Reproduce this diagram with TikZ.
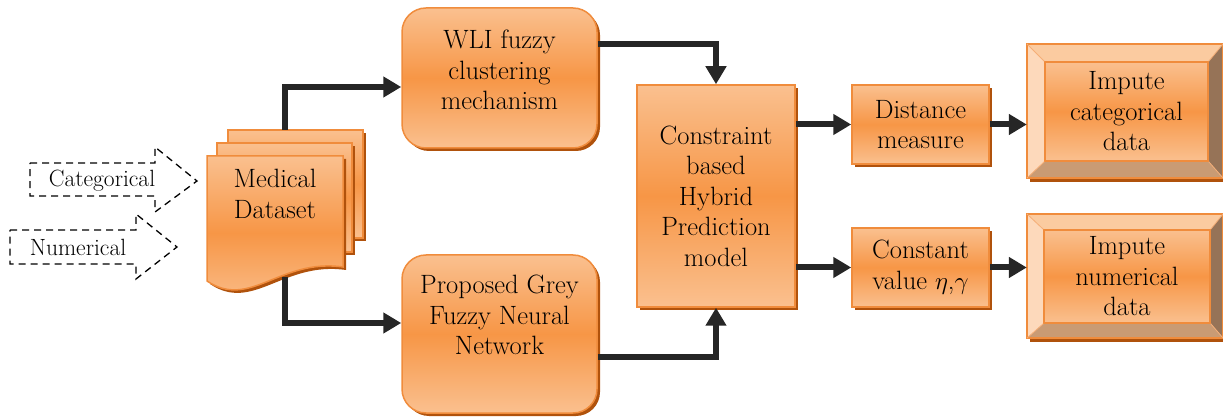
\documentclass[tikz,border=0pt]{standalone}
\usepackage{fontspec}
\usetikzlibrary{arrows.meta,shadows}
\definecolor{om}{HTML}{F79646}
\definecolor{ol}{HTML}{FAC08F}
\definecolor{ob}{HTML}{F08C3C}
\definecolor{osh}{HTML}{B0520C}
\definecolor{conc}{HTML}{262626}
\definecolor{fleft}{HTML}{FDD9BB}
\definecolor{ftop}{HTML}{FBCBA0}
\definecolor{fright}{HTML}{967357}
\definecolor{fbot}{HTML}{C99B74}
\begin{document}
\begin{tikzpicture}[x=1pt,y=-1pt,
 font=\rmfamily\fontsize{26.5}{30.5}\selectfont,
 orfill/.style={top color=ol, bottom color=ol, middle color=om, draw=ob, line width=1.5pt},
 shad/.style={drop shadow={shadow xshift=3pt, shadow yshift=-3pt, fill=osh, opacity=1}},
 rbox/.style={orfill, shad, rectangle, rounded corners=24pt, inner sep=0pt},
 sbox/.style={orfill, shad, rectangle, inner sep=0pt, align=center},
 ibox/.style={orfill, rectangle, inner sep=0pt, align=center},
 lbl/.style={align=center, inner sep=0pt},
 small/.style={font=\rmfamily\fontsize{23.5}{28}\selectfont},
 conn/.style={draw=conc, line width=6pt, -{Triangle[length=18pt,width=20pt]}},
 inarrow/.style={draw=black, line width=1.3pt, dash pattern=on 7pt off 5pt}
]
\useasboundingbox (0,0) rectangle (1223,419);

% dashed input arrows
\draw[inarrow] (30,163) -- (155,163) -- (155,147) -- (197,181) -- (155,212) -- (155,196) -- (30,196) -- cycle;
\node[lbl, small] (cat) at (102,181) {Categorical};
\draw[inarrow] (10,230) -- (136,230) -- (136,214) -- (177,247) -- (136,279) -- (136,264) -- (10,264) -- cycle;
\node[lbl, small] (num) at (78,247) {Numerical};

% medical dataset (multi-document)
\path[orfill, shad] (228,130) rectangle (363,238);
\path[orfill, shad] (217,143) rectangle (352,252);
\path[orfill, shad] (207,156) -- (343,156) -- (343,267) .. controls (280,258) and (250,310) .. (207,281) -- cycle;
\node[lbl] (ds) at (275,194) {Medical\\Dataset};
\coordinate (dstop) at (285,130);
\coordinate (dsbot) at (285,277);

% process boxes
\node[rbox, minimum width=195pt, minimum height=140pt] (wli) at (499.5,78) {};
\node[lbl] (wlit) at ([yshift=8pt]wli.center) {WLI fuzzy\\clustering\\mechanism};
\node[rbox, minimum width=195pt, minimum height=158pt] (grey) at (499.5,334) {};
\node[lbl] (greyt) at ([yshift=19pt]grey.center) {Proposed Grey\\Fuzzy Neural\\Network};
\node[sbox, minimum width=158pt, minimum height=222pt] (cons) at (716,196) {Constraint\\based\\Hybrid\\Prediction\\model};
\node[sbox, minimum width=137pt, minimum height=79pt] (dist) at (920.5,124.5) {Distance\\measure};
\node[sbox, minimum width=137pt, minimum height=79pt] (const) at (920.5,267.5) {Constant\\value $\eta$,$\gamma$};

% bevel boxes
\node[minimum width=196pt, minimum height=134pt, inner sep=0pt] (ic) at (1125,111) {};
\fill[osh] ([xshift=3pt]ic.south west) rectangle ([yshift=-4pt]ic.south east);
\node[ibox, minimum width=163pt, minimum height=99pt] (ici) at (1126.5,111.5) {Impute\\categorical\\data};
\fill[fleft] (ic.north west) -- (ici.north west) -- (ici.south west) -- (ic.south west) -- cycle;
\fill[ftop] (ic.north west) -- (ici.north west) -- (ici.north east) -- (ic.north east) -- cycle;
\fill[fright] (ic.north east) -- (ici.north east) -- (ici.south east) -- (ic.south east) -- cycle;
\fill[fbot] (ic.south west) -- (ici.south west) -- (ici.south east) -- (ic.south east) -- cycle;
\draw[ob, line width=1.5pt] (ic.north west) rectangle (ic.south east);
\draw[ob, line width=1.2pt] (ici.north west) rectangle (ici.south east);
\draw[ob!70, line width=0.8pt] (ic.north west) -- (ici.north west) (ic.south west) -- (ici.south west) (ic.north east) -- (ici.north east) (ic.south east) -- (ici.south east);

\node[minimum width=196pt, minimum height=124pt, inner sep=0pt] (in) at (1125,276) {};
\fill[osh] ([xshift=3pt]in.south west) rectangle ([yshift=-4pt]in.south east);
\node[ibox, minimum width=166pt, minimum height=93pt] (ini) at (1127,276.5) {Impute\\numerical\\data};
\fill[fleft] (in.north west) -- (ini.north west) -- (ini.south west) -- (in.south west) -- cycle;
\fill[ftop] (in.north west) -- (ini.north west) -- (ini.north east) -- (in.north east) -- cycle;
\fill[fright] (in.north east) -- (ini.north east) -- (ini.south east) -- (in.south east) -- cycle;
\fill[fbot] (in.south west) -- (ini.south west) -- (ini.south east) -- (in.south east) -- cycle;
\draw[ob, line width=1.5pt] (in.north west) rectangle (in.south east);
\draw[ob, line width=1.2pt] (ini.north west) rectangle (ini.south east);
\draw[ob!70, line width=0.8pt] (in.north west) -- (ini.north west) (in.south west) -- (ini.south west) (in.north east) -- (ini.north east) (in.south east) -- (ini.south east);

% connectors
\draw[conn] (dstop) |- ([yshift=-9pt]wli.west);
\draw[conn] (dsbot) |- ([yshift=11pt]grey.west);
\draw[conn] ([yshift=34pt]wli.east) -| (cons.north);
\draw[conn] ([yshift=-23pt]grey.east) -| (cons.south);
\draw[conn] (cons.east |- dist.west) -- (dist.west);
\draw[conn] (cons.east |- const.west) -- (const.west);
\draw[conn] (dist.east) -- (dist.east -| ic.west);
\draw[conn] (const.east) -- (const.east -| in.west);
\end{tikzpicture}
\end{document}
